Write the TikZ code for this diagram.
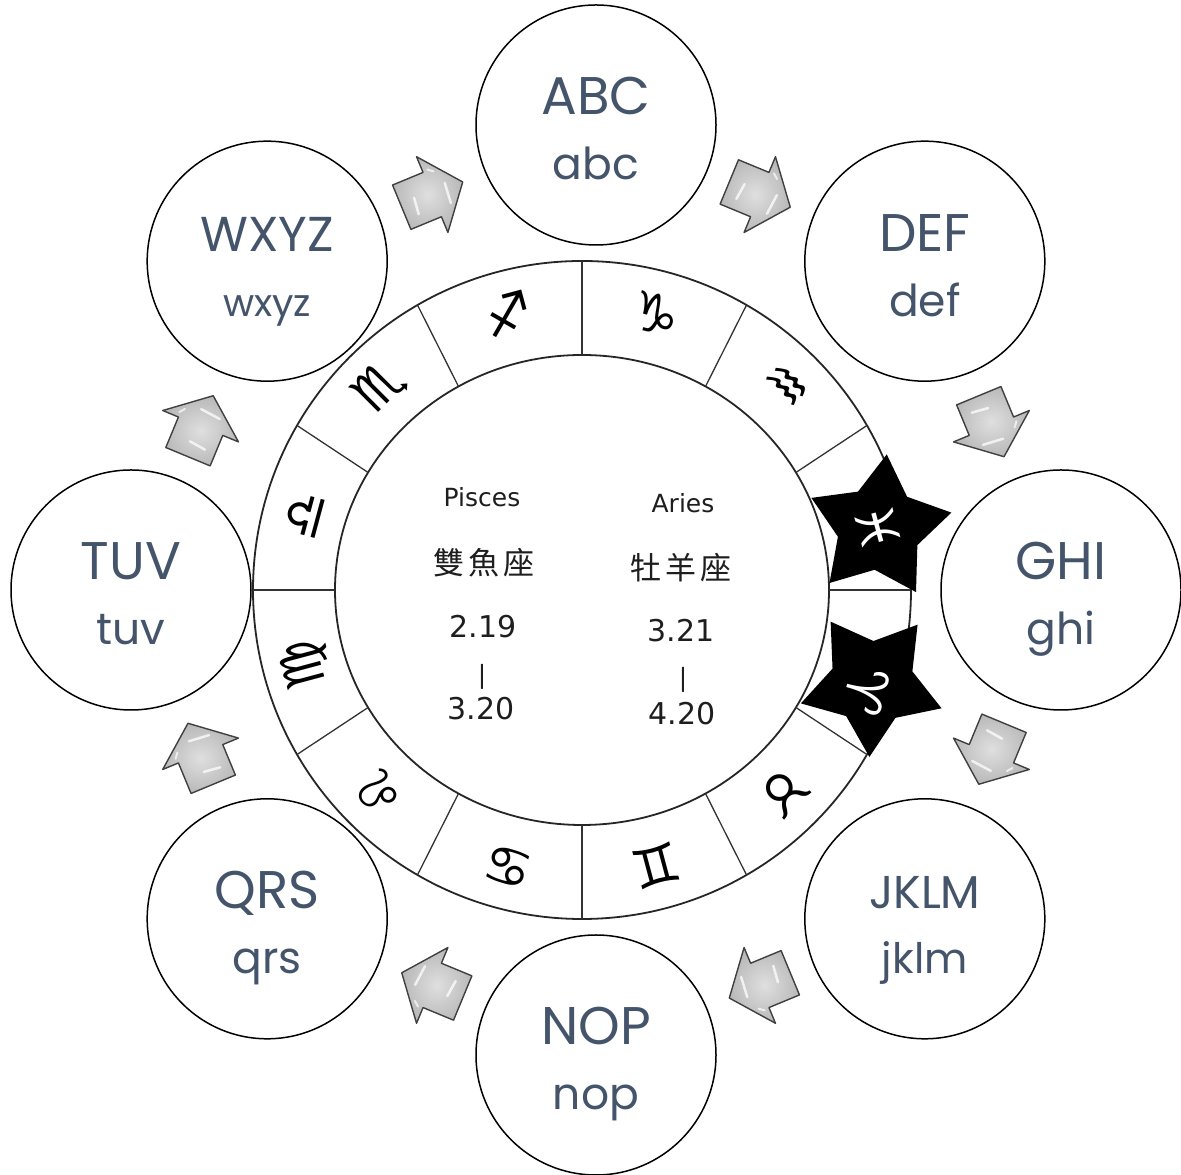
\documentclass[tikz,border=0pt]{standalone}
\usepackage{fontspec}
\setmainfont{Poppins}
\newfontfamily\cjkfont{Noto Sans CJK TC}
\newfontfamily\djv{DejaVu Sans}
\usetikzlibrary{calc}
\definecolor{txtblue}{HTML}{44546A}
\definecolor{centertxt}{HTML}{1E1E1E}
\tikzset{
  bubble/.style={circle, draw=black, line width=1.5pt, minimum size=240pt, inner sep=0pt},
  captxt/.style={anchor=base, inner sep=0pt, text=txtblue},
  ringline/.style={draw=black!85, line width=1.8pt},
  divline/.style={draw=black!80, line width=1.3pt},
  signtxt/.style={inner sep=0pt, font=\djv\fontsize{54}{54}\selectfont},
  lbl/.style={anchor=base, inner sep=0pt, text=centertxt, font=\djv\fontsize{25}{25}\selectfont},
  numtxt/.style={anchor=base, inner sep=0pt, text=centertxt, font=\djv\fontsize{30}{30}\selectfont},
  bartxt/.style={inner sep=0pt, text=centertxt, font=\djv\fontsize{25}{25}\selectfont},
  cjktxt/.style={anchor=base, inner sep=0pt, text=centertxt, font=\cjkfont\fontsize{31}{31}\selectfont},
  flowarrow/.pic={
    \draw[draw=black!75, line width=1.4pt, line join=round, inner color=gray!25, outer color=gray!55]
      (-33,24) -- (0,24) -- (0,41) -- (33,0) -- (0,-41) -- (0,-24) -- (-33,-24) -- cycle;
    \draw[white, line width=2.5pt, line cap=round, opacity=0.75] (-20,-13) -- (-18,4);
    \draw[white, line width=2.5pt, line cap=round, opacity=0.75] (14,-15) -- (16,6);
    \draw[white, line width=2pt, line cap=round, opacity=0.7] (5,25) -- (10,21);
  }
}
\newcommand\bubblenode[6]{%
  \node[bubble] (#1) at ($(dc)+(#2:465)$) {};
  \node[captxt, font=\fontsize{#5}{#5}\selectfont] (#1up) at ($(#1.center)+(0,10)$) {#3};
  \node[captxt, font=\fontsize{#6}{#6}\selectfont] (#1lo) at ($(#1.center)+(0,-55)$) {#4};
}
\begin{document}
\begin{tikzpicture}[x=1pt,y=1pt]
\useasboundingbox (0,0) rectangle (1181,1175);
\fill[white] (0,0) rectangle (1181,1175);
\coordinate (dc) at (596,585);
\coordinate (rc) at (582,585);
% ring
\draw[ringline] (rc) circle[radius=329];
\draw[ringline] (rc) ellipse[x radius=247, y radius=235];
\foreach \a in {0,30,...,330}
  \draw[divline] ($(rc)+({247*cos(\a)},{235*sin(\a)})$) -- ($(rc)+(\a:329)$);
% stars
\coordinate (pstar) at (879,647);
\coordinate (astar) at (872,492);
\fill[black] ($(pstar)+(84:74)$) \foreach \k in {1,...,9}{ -- ($(pstar)+({84+36*\k}:{58+16*cos(180*\k)})$) } -- cycle;
\fill[black] ($(astar)+(52:74)$) \foreach \k in {1,...,9}{ -- ($(astar)+({52+36*\k}:{58+16*cos(180*\k)})$) } -- cycle;
% signs
\foreach \a/\s in {45/♒,75/♑,105/♐,135/♏,165/♎,195/♍,225/♌,255/♋,285/♊,315/♉}
  \node[signtxt, rotate=\a-90] (sign\a) at ($(rc)+(\a:286)$) {\s};
\node[signtxt, text=white, rotate=-75] (signpisces) at (878,647) {♓};
\node[signtxt, text=white, rotate=255] (signaries) at (866,484) {♈};
% center text
\node[lbl] (pisces) at (482,668) {Pisces};
\node[cjktxt] (pisceszh) at (484,600) {雙\hspace{4pt}魚\hspace{4pt}座};
\node[numtxt] (pfrom) at (483,537) {2.19};
\node[bartxt] (pbar) at (482,498) {|};
\node[numtxt] (pto) at (481,455) {3.20};
\node[lbl] (aries) at (683,662) {Aries};
\node[cjktxt] (arieszh) at (681,595) {牡\hspace{4pt}羊\hspace{4pt}座};
\node[numtxt] (afrom) at (681,533) {3.21};
\node[bartxt] (abar) at (683,495) {|};
\node[numtxt] (ato) at (682,450) {4.20};
% bubbles
\bubblenode{abc}{90}{ABC}{abc}{53}{44}
\bubblenode{def}{45}{DEF}{def}{53}{44}
\bubblenode{ghi}{0}{GHI}{ghi}{53}{44}
\bubblenode{jklm}{-45}{JKLM}{jklm}{46}{42}
\bubblenode{nop}{-90}{NOP}{nop}{53}{44}
\bubblenode{qrs}{-135}{QRS}{qrs}{53}{44}
\bubblenode{tuv}{180}{TUV}{tuv}{53}{44}
\bubblenode{wxyz}{135}{WXYZ}{wxyz}{49}{38}
% arrows
\foreach \a in {112.5,67.5,22.5,-22.5,-67.5,-112.5,-157.5,157.5}
  \pic[rotate=\a-90] at ($(dc)+(\a:428)$) {flowarrow};
\end{tikzpicture}
\end{document}
